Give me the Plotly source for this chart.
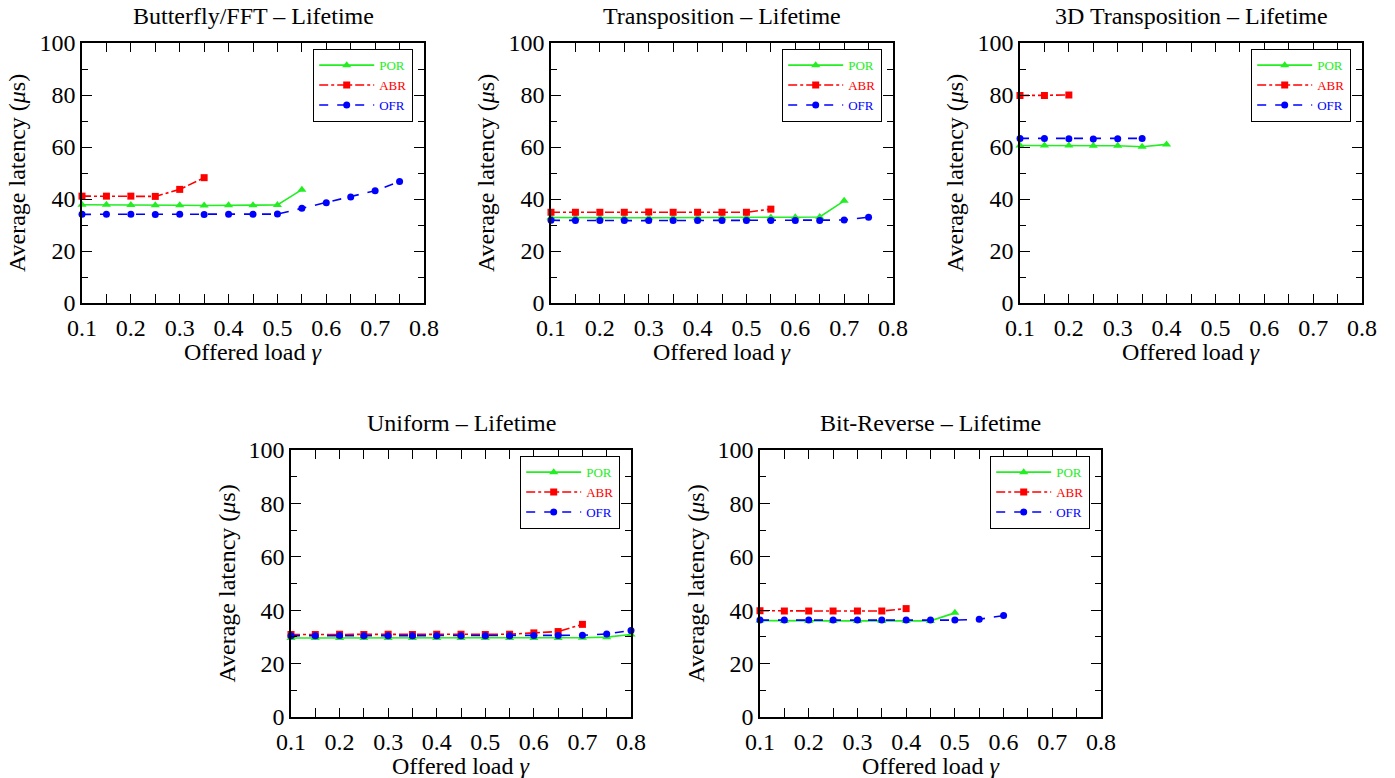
import plotly.graph_objects as go

# ---------------- data ----------------
titles = ["Butterfly/FFT – Lifetime", "Transposition – Lifetime", "3D Transposition – Lifetime",
          "Uniform – Lifetime", "Bit-Reverse – Lifetime"]
series_names = ["POR", "ABR", "OFR"]
x_ticks = [0.1, 0.2, 0.3, 0.4, 0.5, 0.6, 0.7, 0.8]
y_ticks = [0, 20, 40, 60, 80, 100]

# Butterfly/FFT
bf_por_x = [0.1, 0.15, 0.2, 0.25, 0.3, 0.35, 0.4, 0.45, 0.5, 0.55]
bf_por_y = [37.8, 37.8, 37.7, 37.6, 37.6, 37.5, 37.6, 37.6, 37.7, 43.6]
bf_abr_x = [0.1, 0.15, 0.2, 0.25, 0.3, 0.35]
bf_abr_y = [41.1, 41.1, 41.1, 41.0, 43.7, 48.2]
bf_ofr_x = [0.1, 0.15, 0.2, 0.25, 0.3, 0.35, 0.4, 0.45, 0.5, 0.55, 0.6, 0.65, 0.7, 0.75]
bf_ofr_y = [34.1, 34.1, 34.1, 34.0, 34.1, 34.0, 34.1, 34.1, 34.2, 36.4, 38.6, 40.8, 43.2, 46.7]

# Transposition
tr_por_x = [0.1, 0.15, 0.2, 0.25, 0.3, 0.35, 0.4, 0.45, 0.5, 0.55, 0.6, 0.65, 0.7]
tr_por_y = [32.9, 32.8, 32.8, 32.8, 32.8, 32.8, 32.8, 32.8, 32.8, 32.9, 33.0, 33.1, 39.3]
tr_abr_x = [0.1, 0.15, 0.2, 0.25, 0.3, 0.35, 0.4, 0.45, 0.5, 0.55]
tr_abr_y = [34.9, 34.9, 34.9, 34.9, 35.0, 34.9, 34.9, 34.9, 34.9, 36.1]
tr_ofr_x = [0.1, 0.15, 0.2, 0.25, 0.3, 0.35, 0.4, 0.45, 0.5, 0.55, 0.6, 0.65, 0.7, 0.75]
tr_ofr_y = [31.8, 31.7, 31.7, 31.7, 31.7, 31.7, 31.7, 31.7, 31.7, 31.7, 31.7, 31.7, 31.9, 33.0]

# 3D Transposition
t3_por_x = [0.1, 0.15, 0.2, 0.25, 0.3, 0.35, 0.4]
t3_por_y = [60.6, 60.6, 60.6, 60.5, 60.5, 60.1, 61.0]
t3_abr_x = [0.1, 0.15, 0.2]
t3_abr_y = [79.8, 79.8, 80.0]
t3_ofr_x = [0.1, 0.15, 0.2, 0.25, 0.3, 0.35]
t3_ofr_y = [63.3, 63.3, 63.2, 63.1, 63.2, 63.3]

# Uniform
un_por_x = [0.1, 0.15, 0.2, 0.25, 0.3, 0.35, 0.4, 0.45, 0.5, 0.55, 0.6, 0.65, 0.7, 0.75, 0.8]
un_por_y = [29.6, 29.6, 29.6, 29.6, 29.6, 29.6, 29.6, 29.6, 29.6, 29.6, 29.6, 29.6, 29.7, 29.9, 30.9]
un_abr_x = [0.1, 0.15, 0.2, 0.25, 0.3, 0.35, 0.4, 0.45, 0.5, 0.55, 0.6, 0.65, 0.7]
un_abr_y = [30.9, 30.9, 31.0, 30.9, 31.0, 30.9, 31.0, 31.0, 30.9, 31.0, 31.5, 32.0, 34.7]
un_ofr_x = [0.1, 0.15, 0.2, 0.25, 0.3, 0.35, 0.4, 0.45, 0.5, 0.55, 0.6, 0.65, 0.7, 0.75, 0.8]
un_ofr_y = [30.4, 30.4, 30.5, 30.4, 30.4, 30.4, 30.4, 30.4, 30.4, 30.4, 30.5, 30.5, 30.6, 31.1, 32.4]

# Bit-Reverse
br_por_x = [0.1, 0.15, 0.2, 0.25, 0.3, 0.35, 0.4, 0.45, 0.5]
br_por_y = [36.1, 36.0, 36.0, 36.0, 36.0, 36.0, 36.0, 36.0, 39.0]
br_abr_x = [0.1, 0.15, 0.2, 0.25, 0.3, 0.35, 0.4]
br_abr_y = [39.8, 39.7, 39.7, 39.7, 39.7, 39.7, 40.6]
br_ofr_x = [0.1, 0.15, 0.2, 0.25, 0.3, 0.35, 0.4, 0.45, 0.5, 0.55, 0.6]
br_ofr_y = [36.3, 36.3, 36.3, 36.3, 36.3, 36.3, 36.3, 36.3, 36.3, 36.6, 38.0]

panels = [
    [(bf_por_x, bf_por_y), (bf_abr_x, bf_abr_y), (bf_ofr_x, bf_ofr_y)],
    [(tr_por_x, tr_por_y), (tr_abr_x, tr_abr_y), (tr_ofr_x, tr_ofr_y)],
    [(t3_por_x, t3_por_y), (t3_abr_x, t3_abr_y), (t3_ofr_x, t3_ofr_y)],
    [(un_por_x, un_por_y), (un_abr_x, un_abr_y), (un_ofr_x, un_ofr_y)],
    [(br_por_x, br_por_y), (br_abr_x, br_abr_y), (br_ofr_x, br_ofr_y)],
]

# ---------------- style ----------------
W, H = 1395, 778
FONT = "Liberation Serif"
colors = ["#22ee22", "#ff0000", "#0000ff"]
dashes = ["solid", "dashdot", "dash"]
symbols = ["triangle-up", "square", "circle"]
msizes = [8, 7, 7]

# plot area boxes in pixels: (left, right, top, bottom)
boxes = [
    (82, 424, 43, 303),
    (551, 893, 43, 303),
    (1020, 1362, 43, 303),
    (291, 631, 450, 717),
    (760, 1101, 450, 717),
]

fig = go.Figure()
layout = dict(
    width=W, height=H,
    margin=dict(l=0, r=0, t=0, b=0, autoexpand=False),
    paper_bgcolor="white", plot_bgcolor="white",
    font=dict(family=FONT, size=24, color="black"),
    annotations=[],
)

for i, (box, data) in enumerate(zip(boxes, panels)):
    l, r, t, b = box
    n = "" if i == 0 else str(i + 1)
    xa, ya = "x" + n, "y" + n
    lg = "legend" + n
    for k, (xs, ys) in enumerate(data):
        fig.add_trace(go.Scatter(
            x=xs, y=ys, mode="lines+markers",
            name="<span style='color:%s'>%s</span>" % (colors[k], series_names[k]),
            xaxis=xa, yaxis=ya, legend=lg, cliponaxis=False,
            line=dict(color=colors[k], width=1.6, dash=dashes[k]),
            marker=dict(color=colors[k], symbol=symbols[k], size=msizes[k]),
        ))
    axcommon = dict(
        showgrid=False, zeroline=False, showline=True, linecolor="black", linewidth=1.5,
        mirror="ticks", ticks="inside", tickwidth=1.2, tickcolor="black",
        tickfont=dict(family=FONT, size=24, color="black"), automargin=False,
    )
    layout["xaxis" + n] = dict(
        axcommon, domain=[l / W, r / W], anchor=ya, range=[0.1, 0.8], ticklen=9,
        tickvals=x_ticks, ticktext=["%.1f" % v for v in x_ticks], ticklabelstandoff=2,
        minor=dict(dtick=0.05, tick0=0.1, ticks="inside", ticklen=9, tickcolor="black", tickwidth=1.2),
    )
    layout["yaxis" + n] = dict(
        axcommon, domain=[1 - b / H, 1 - t / H], anchor=xa, range=[0, 100], ticklen=10,
        tickvals=y_ticks,
        minor=dict(dtick=10, tick0=0, ticks="inside", ticklen=6, tickcolor="black", tickwidth=1.2),
    )
    layout[lg] = dict(
        x=(r - 11) / W, y=1 - (t + 6) / H, xanchor="right", yanchor="top",
        bgcolor="white", bordercolor="black", borderwidth=1.2,
        font=dict(family=FONT, size=13), itemwidth=55, tracegroupgap=0,
    )
    cx = (l + r) / 2 / W
    layout["annotations"].append(dict(
        text=titles[i], x=cx, y=1 - (t - 27) / H, xref="paper", yref="paper",
        showarrow=False, xanchor="center", yanchor="middle", font=dict(family=FONT, size=24)))
    layout["annotations"].append(dict(
        text="Offered load <i>γ</i>", x=cx, y=1 - (b + 49) / H, xref="paper", yref="paper",
        showarrow=False, xanchor="center", yanchor="middle", font=dict(family=FONT, size=24)))
    layout["annotations"].append(dict(
        text="Average latency (<i>μ</i>s)", x=(l - 65) / W, y=1 - (t + b) / 2 / H,
        xref="paper", yref="paper", textangle=-90,
        showarrow=False, xanchor="center", yanchor="middle", font=dict(family=FONT, size=24)))

fig.update_layout(**layout)
fig.write_html("out.html", config={"displayModeBar": False},
               post_script="document.body.style.margin='0';document.body.style.padding='0';")
